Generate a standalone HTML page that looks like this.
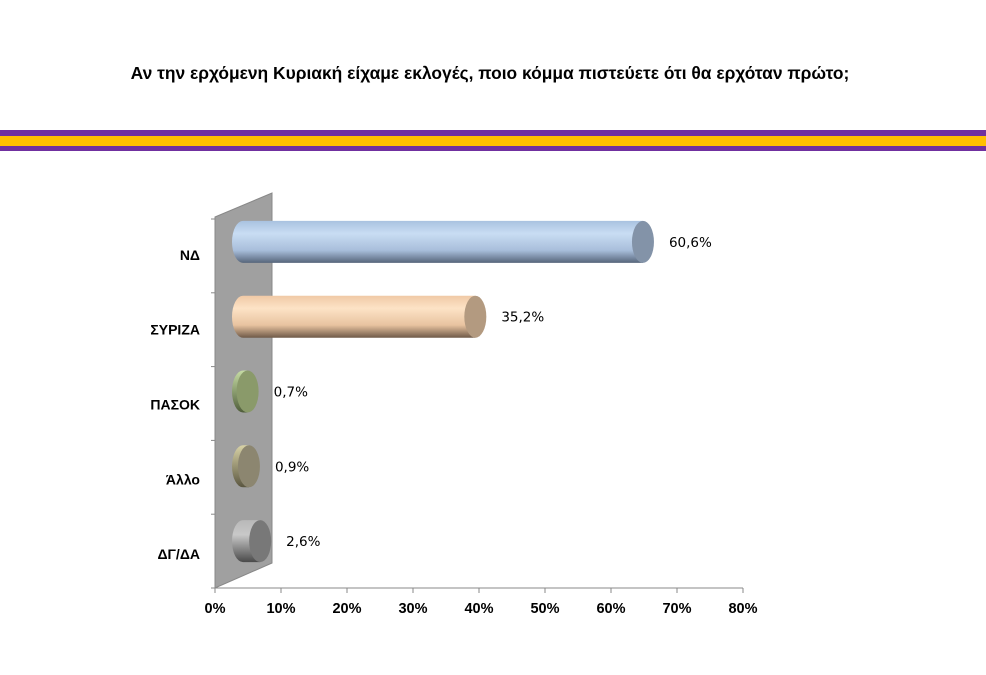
<!DOCTYPE html>
<html><head><meta charset="utf-8">
<style>
body{margin:0;background:#fff;width:986px;height:675px;overflow:hidden;font-family:"Liberation Sans",sans-serif}
svg{display:block}
</style></head>
<body>
<svg width="986" height="675">
<defs>
<linearGradient id="gND" x1="0" y1="0" x2="0" y2="1"><stop offset="0" stop-color="#a9c2e0"/><stop offset="0.3" stop-color="#c9ddf3"/><stop offset="0.7" stop-color="#a8bedb"/><stop offset="1" stop-color="#56657a"/></linearGradient>
<linearGradient id="gSY" x1="0" y1="0" x2="0" y2="1"><stop offset="0" stop-color="#f0c9a6"/><stop offset="0.3" stop-color="#fde3c6"/><stop offset="0.7" stop-color="#e8c3a0"/><stop offset="1" stop-color="#6f5a48"/></linearGradient>
<linearGradient id="gPA" x1="0" y1="0" x2="0" y2="1"><stop offset="0" stop-color="#c6dca4"/><stop offset="1" stop-color="#4f5d3a"/></linearGradient>
<linearGradient id="gAL" x1="0" y1="0" x2="0" y2="1"><stop offset="0" stop-color="#d8d2a6"/><stop offset="1" stop-color="#5a5640"/></linearGradient>
<linearGradient id="gDG" x1="0" y1="0" x2="0" y2="1"><stop offset="0" stop-color="#b8b8b8"/><stop offset="0.35" stop-color="#c8c8c8"/><stop offset="1" stop-color="#4a4a4a"/></linearGradient>
</defs>
<text x="490" y="79" text-anchor="middle" font-size="17.4" font-weight="bold">Αν την ερχόμενη Κυριακή είχαμε εκλογές, ποιο κόμμα πιστεύετε ότι θα ερχόταν πρώτο;</text>
<rect x="0" y="130" width="986" height="6" fill="#7030a0"/>
<rect x="0" y="136" width="986" height="10" fill="#ffc000"/>
<rect x="0" y="146" width="986" height="5" fill="#7030a0"/>
<polygon points="215,217 272,193 272,563 215,588" fill="#a0a0a0" stroke="#888"/>
<g id="axes"></g>
<g id="bars"></g>
</svg>
<script>
const categories=["ΝΔ","ΣΥΡΙΖΑ","ΠΑΣΟΚ","Άλλο","ΔΓ/ΔΑ"];
const values=[60.6,35.2,0.7,0.9,2.6];
const valueLabels=["60,6%","35,2%","0,7%","0,9%","2,6%"];
const ticks=[0,10,20,30,40,50,60,70,80];
const fills=["gND","gSY","gPA","gAL","gDG"];
const caps=["#8393a8","#b39a80","#8a9a6a","#8c8670","#787878"];
const NS="http://www.w3.org/2000/svg";
const x=v=>215+v*6.6;
const rowTop=i=>219+i*73.8;
const yc=i=>rowTop(i)+22.9+i;
function mk(tag,attrs,parent){const e=document.createElementNS(NS,tag);for(const k in attrs)e.setAttribute(k,attrs[k]);parent.appendChild(e);return e;}
const ax=document.getElementById('axes'),bg=document.getElementById('bars');
mk('line',{x1:215,y1:588,x2:743,y2:588,stroke:'#888'},ax);
mk('line',{x1:215,y1:217,x2:215,y2:588,stroke:'#888'},ax);
ticks.forEach(t=>{
  const l=mk('line',{x1:x(t),y1:588,x2:x(t),y2:593,stroke:'#888'},ax);
  
  
  const tx=mk('text',{x:x(t),y:613,'text-anchor':'middle','font-size':14.5,'font-weight':'bold'},ax);
  tx.textContent=t+'%';
  
  
});
for(let i=0;i<=categories.length;i++){mk('line',{x1:211,y1:rowTop(i),x2:215,y2:rowTop(i),stroke:'#888'},ax);}
categories.forEach((c,i)=>{
  const cy=yc(i);
  const t=mk('text',{x:200,y:cy+18,'text-anchor':'end','font-size':14,'font-weight':'bold'},ax);
  t.textContent=c;
  
  
  const x0=243, ex=243+values[i]*6.6, rx=11, ry=21;
  const g=mk('g',{},bg);
  
  
  mk('path',{d:`M${x0},${cy-ry} L${ex},${cy-ry} L${ex},${cy+ry} L${x0},${cy+ry} A${rx},${ry} 0 0 1 ${x0},${cy-ry} Z`,fill:`url(#${fills[i]})`},g);
  mk('ellipse',{cx:ex,cy:cy,rx:rx,ry:ry,fill:caps[i]},g);
  const v=mk('text',{x:ex+26,y:cy+5,'font-size':13.5,'font-family':'DejaVu Sans, sans-serif'},bg);
  v.textContent=valueLabels[i];
  
  
});
</script>
</body></html>
